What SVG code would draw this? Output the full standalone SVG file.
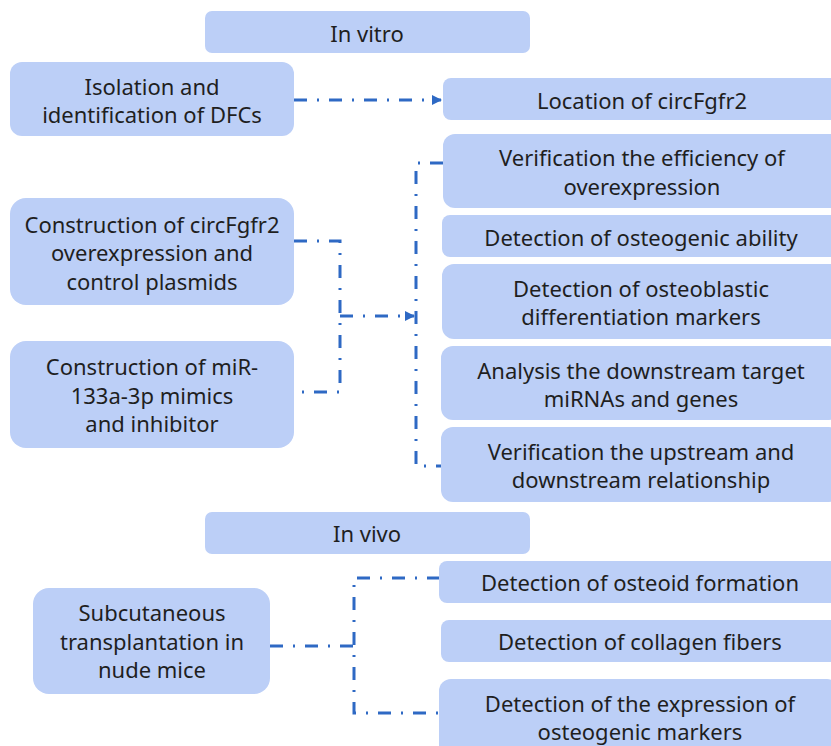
<svg xmlns="http://www.w3.org/2000/svg" width="831" height="746" viewBox="0 0 831 746">
<defs>
<style>
.box{fill:#BCCFF7;}
.t{font-family:"Noto Sans","DejaVu Sans",sans-serif;font-size:22px;fill:#1f1f1f;text-anchor:middle;dominant-baseline:central;}
.c{fill:none;stroke:#2E69C4;stroke-width:3;stroke-dasharray:13 10 2 10;}
</style>
<marker id="ah" markerWidth="10" markerHeight="10" refX="9" refY="5" orient="auto" markerUnits="userSpaceOnUse">
<path d="M0,0 L10,5 L0,10 Z" fill="#2E69C4"/>
</marker>
</defs>
<rect width="831" height="746" fill="#ffffff"/>
<g id="connectors">
<path class="c" d="M294,100 H441" marker-end="url(#ah)"/>
<path class="c" d="M294,241 H340 V392 H294"/>
<path class="c" d="M340,316 H414" marker-end="url(#ah)"/>
<path class="c" d="M443,163 H416 V466 H441"/>
<path class="c" d="M270,646 H354"/>
<path class="c" d="M440,578 H354 V713 H440"/>
</g>
<g id="in-vitro"><rect class="box" x="205" y="11" width="325" height="42" rx="7"/><text class="t" x="367" y="33">In vitro</text></g>
<g id="isolation"><rect class="box" x="10" y="62" width="284" height="74" rx="12"/><text class="t" x="152" y="86">Isolation and</text><text class="t" x="152" y="114">identification of DFCs</text></g>
<g id="location"><rect class="box" x="443" y="78" width="400" height="42" rx="8"/><text class="t" x="642" y="100">Location of circFgfr2</text></g>
<g id="verif-eff"><rect class="box" x="443" y="134" width="400" height="74" rx="12"/><text class="t" x="642" y="157">Verification the efficiency of</text><text class="t" x="642" y="186">overexpression</text></g>
<g id="osteo-ability"><rect class="box" x="442" y="215" width="400" height="42" rx="8"/><text class="t" x="641" y="237">Detection of osteogenic ability</text></g>
<g id="osteoblastic"><rect class="box" x="442" y="264" width="400" height="75" rx="12"/><text class="t" x="641" y="288">Detection of osteoblastic</text><text class="t" x="641" y="316">differentiation markers</text></g>
<g id="analysis"><rect class="box" x="441" y="346" width="400" height="74" rx="12"/><text class="t" x="641" y="370">Analysis the downstream target</text><text class="t" x="641" y="398">miRNAs and genes</text></g>
<g id="verif-up"><rect class="box" x="441" y="427" width="400" height="75" rx="12"/><text class="t" x="641" y="451">Verification the upstream and</text><text class="t" x="641" y="479">downstream relationship</text></g>
<g id="construct-circ"><rect class="box" x="10" y="198" width="284" height="107" rx="16"/><text class="t" x="152" y="224">Construction of circFgfr2</text><text class="t" x="152" y="252">overexpression and</text><text class="t" x="152" y="281">control plasmids</text></g>
<g id="construct-mir"><rect class="box" x="10" y="341" width="284" height="107" rx="16"/><text class="t" x="152" y="366">Construction of miR-</text><text class="t" x="152" y="395">133a-3p mimics</text><text class="t" x="152" y="423">and inhibitor</text></g>
<g id="in-vivo"><rect class="box" x="205" y="512" width="325" height="42" rx="7"/><text class="t" x="367" y="533">In vivo</text></g>
<g id="subcutaneous"><rect class="box" x="33" y="588" width="237" height="106" rx="16"/><text class="t" x="152" y="612">Subcutaneous</text><text class="t" x="152" y="641">transplantation in</text><text class="t" x="152" y="669">nude mice</text></g>
<g id="osteoid"><rect class="box" x="439" y="561" width="400" height="42" rx="8"/><text class="t" x="640" y="582">Detection of osteoid formation</text></g>
<g id="collagen"><rect class="box" x="441" y="620" width="400" height="42" rx="8"/><text class="t" x="640" y="641">Detection of collagen fibers</text></g>
<g id="expression"><rect class="box" x="439" y="679" width="400" height="80" rx="12"/><text class="t" x="640" y="703">Detection of the expression of</text><text class="t" x="640" y="731">osteogenic markers</text></g>
</svg>
